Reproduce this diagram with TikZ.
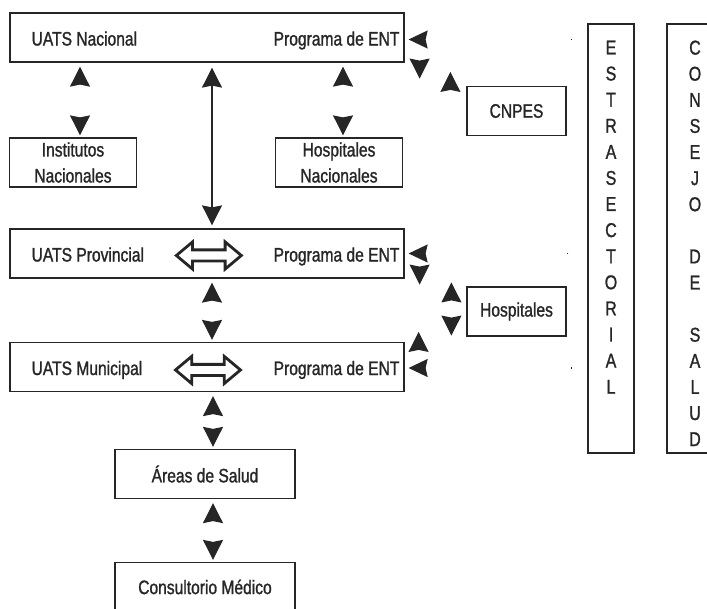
\documentclass[tikz,border=0pt]{standalone}
\usepackage{fontspec}
\setmainfont{Liberation Sans}[FakeStretch=0.8,RawFeature={embolden=1.2}]
\usepackage{tikz}
\usetikzlibrary{positioning,calc,arrows.meta,shapes.arrows}
\definecolor{ink}{HTML}{262626}

\begin{document}
\begin{tikzpicture}[x=1pt,y=-1pt,
    every node/.style={on grid,text=ink},
    font=\fontsize{19.5}{26}\selectfont,
    box/.style={draw=ink,line width=1.2pt,minimum height=49pt,inner sep=0pt,align=center},
    widebox/.style={box,minimum width=394pt},
    sidebox/.style={box,minimum width=127pt},
    extbox/.style={box,minimum width=99pt},
    basebox/.style={box,minimum width=180pt},
    tallbox/.style={box,minimum width=46pt,minimum height=429pt},
    lbl/.style={inner sep=0pt},
    vtext/.style={inner sep=0pt,align=center,font=\fontsize{20}{26.1}\selectfont},
    ends/.style={{Stealth[length=20pt,width=20pt,inset=2pt]}-{Stealth[length=20pt,width=20pt,inset=2pt]},draw=ink,line width=1.1pt},
    pair/.style={ends,dash pattern=on 0pt off 900pt},
    vpair/.style={pair,shorten <=4pt,shorten >=2pt},
    feed/.style={-{Stealth[length=19pt,width=18pt,inset=2pt]},draw=ink,line width=1.2pt,dash pattern=on 1.5pt off 900pt},
    twin/.style={double arrow,draw=ink,line width=2.8pt,inner xsep=0pt,inner ysep=4.2pt,minimum width=1pt,
        minimum height=65pt,double arrow head extend=8pt,double arrow tip angle=80}]
    \path[use as bounding box] (0,0) rectangle (707,608);
    \clip (0,0) rectangle (707,608);

    \node[widebox] (nac) at (207,37.5) {};
    \node[sidebox,below left=125pt and 134pt of nac] (inst) {Institutos\\Nacionales};
    \node[sidebox,below right=125pt and 132pt of nac] (hosn) {Hospitales\\Nacionales};
    \node[widebox,below=216pt of nac] (prov) {};
    \node[widebox,below=113.5pt of prov] (mun) {};
    \node[basebox,below left=107pt and 2pt of mun] (areas) {Áreas de Salud};
    \node[basebox,below=113pt of areas] (cons) {Consultorio Médico};
    \node[extbox,below right=73.5pt and 309.5pt of nac] (cnpes) {CNPES};
    \node[extbox,below right=58pt and 309.5pt of prov] (hosp) {Hospitales};
    \node[tallbox,below right=201pt and 404pt of nac] (estra) {};
    \node[tallbox,minimum width=56pt,right=84pt of estra] (consejo) {};

    \node[lbl,anchor=base west] (nacL) at ($(nac.west)+(22,8)$) {UATS Nacional};
    \node[lbl,anchor=base east] (nacR) at ($(nac.east)+(-5,8)$) {Programa de ENT};
    \node[lbl,anchor=base west] (provL) at ($(prov.west)+(22,8)$) {UATS Provincial};
    \node[lbl,anchor=base east] (provR) at ($(prov.east)+(-5,8)$) {Programa de ENT};
    \node[lbl,anchor=base west] (munL) at ($(mun.west)+(22,8)$) {UATS Municipal};
    \node[lbl,anchor=base east] (munR) at ($(mun.east)+(-5,8)$) {Programa de ENT};
    \node[vtext,anchor=north] (estraT) at ($(estra.north)+(0,17)$) {E\\S\\T\\R\\A\\S\\E\\C\\T\\O\\R\\I\\A\\L};
    \node[vtext,anchor=north] (consejoT) at ($(consejo.north)+(0,17)$) {C\\O\\N\\S\\E\\J\\O\\\mbox{}\\D\\E\\\mbox{}\\S\\A\\L\\U\\D};

    \node[twin] (provArr) at ($(provL.east)!0.5!(provR.west)$) {};
    \node[twin] (munArr) at ($(munL.east)!0.5!(munR.west)$) {};

    \draw[vpair] ($(inst.north |- nac.south)+(7,0)$) -- ($(inst.north)+(7,0)$);
    \draw[vpair] ($(hosn.north |- nac.south)+(4,0)$) -- ($(hosn.north)+(4,0)$);
    \draw[ends,shorten <=5pt,shorten >=3pt] ($(nac.south)+(5,0)$) -- ($(prov.north)+(5,0)$);
    \draw[vpair] ($(prov.south)+(5,0)$) -- ($(mun.north)+(5,0)$);
    \draw[vpair] ($(mun.south)+(6,0)$) -- ($(areas.north -| mun.south)+(6,0)$);
    \draw[vpair] ($(areas.south)+(8,0)$) -- ($(cons.north)+(8,0)$);

    \draw[feed] ($(estra.west |- nac.east)+(-15,2)$) -- ($(nac.east)+(4,2)$);
    \draw[feed] ($(estra.west |- prov.east)+(-19,0)$) -- ($(prov.east)+(4,0)$);
    \draw[feed] ($(estra.west |- mun.east)+(-15,1)$) -- ($(mun.east)+(4,1)$);

    \draw[pair] ($(nac.south east)+(15,16)$) .. controls +(0,-30) and +(0,30) .. ($(cnpes.north west)+(-16,-14)$);
    \draw[pair] ($(prov.south east)+(15,6)$) .. controls +(0,-30) and +(0,30) .. ($(hosp.north west)+(-15,-4)$);
    \draw[pair] ($(mun.north east)+(14,-10)$) .. controls +(0,30) and +(0,-30) .. ($(hosp.south west)+(-15,-1)$);
\end{tikzpicture}
\end{document}
